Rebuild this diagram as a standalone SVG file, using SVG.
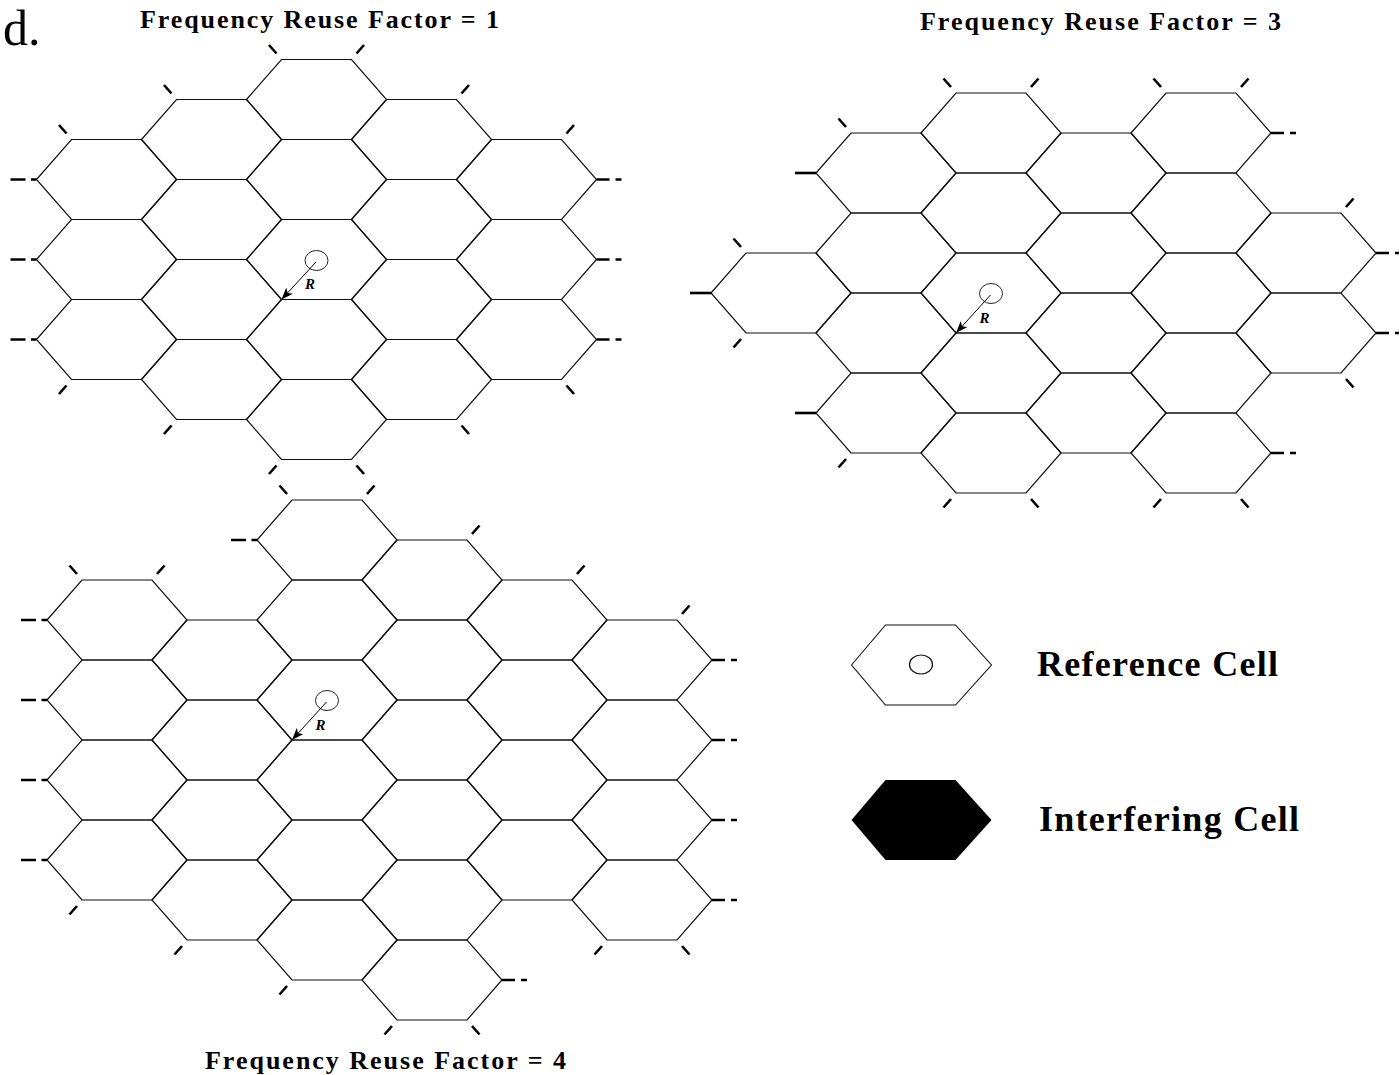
<svg xmlns="http://www.w3.org/2000/svg" xmlns:xlink="http://www.w3.org/1999/xlink" width="1399" height="1075" viewBox="0 0 1399 1075">
  <style>
    .cell { fill: none; stroke: #111; stroke-width: 1.2; }
    .stub { fill: none; stroke: #000; stroke-width: 2.6; stroke-linecap: butt; }
    .title { font-family: "Liberation Serif", "Times New Roman", serif; font-weight: bold; font-size: 26px; fill: #000; }
    .legend { font-family: "Liberation Serif", "Times New Roman", serif; font-weight: bold; font-size: 36px; fill: #000; }
    .rlabel { font-family: "Liberation Serif", "Times New Roman", serif; font-weight: bold; font-style: italic; font-size: 15px; fill: #000; }
    .site { fill: #fff; stroke: #222; stroke-width: 1; }
    .radius { stroke: #000; stroke-width: 1; marker-end: url(#ah); }
  </style>
  <defs>
    <!-- flattened hexagonal cell, centred on its origin -->
    <polygon id="hex" points="-70,0 -35,-40 35,-40 70,0 35,40 -35,40"/>
    <!-- continuation stubs drawn at the outer vertices of each cluster -->
    <path id="ul" d="M-5,-6 L-12.5,-14.5"/>
    <path id="ur" d="M5,-6 L12.5,-14.5"/>
    <path id="dl" d="M-5,6 L-12.5,14.5"/>
    <path id="dr" d="M5,6 L12.5,14.5"/>
    <path id="lt" d="M-26,0 H-11 M-5.5,0 H0"/>
    <path id="rt" d="M0,0 H13 M19,0 H25"/>
    <path id="lts" d="M-21,0 H0"/>
    <marker id="ah" markerWidth="13" markerHeight="10" refX="12" refY="4.5" orient="auto" markerUnits="userSpaceOnUse">
      <path d="M0,0 L12,4.5 L0,9 L3,4.5 z" fill="#000"/>
    </marker>
  </defs>

  <rect width="1399" height="1075" fill="#fff"/>

  <text x="3" y="45" font-family="'Liberation Serif', 'Times New Roman', serif" font-size="50">d.</text>

  <!-- ===== Frequency Reuse Factor = 1 ===== -->
  <text class="title" x="140" y="28" textLength="359" lengthAdjust="spacing">Frequency Reuse Factor = 1</text>
  <g id="reuse1" class="cell">
    <g id="r1-c0-a"><use xlink:href="#hex" x="106.5" y="179.5"/></g>
    <g id="r1-c0-b"><use xlink:href="#hex" x="106.5" y="259.5"/></g>
    <g id="r1-c0-c"><use xlink:href="#hex" x="106.5" y="339.5"/></g>
    <g id="r1-c1-a"><use xlink:href="#hex" x="211.5" y="139.5"/></g>
    <g id="r1-c1-b"><use xlink:href="#hex" x="211.5" y="219.5"/></g>
    <g id="r1-c1-c"><use xlink:href="#hex" x="211.5" y="299.5"/></g>
    <g id="r1-c1-d"><use xlink:href="#hex" x="211.5" y="379.5"/></g>
    <g id="r1-c2-a"><use xlink:href="#hex" x="316.5" y="99.5"/></g>
    <g id="r1-c2-b"><use xlink:href="#hex" x="316.5" y="179.5"/></g>
    <g id="r1-ref"><use xlink:href="#hex" x="316.5" y="259.5"/></g>
    <g id="r1-c2-d"><use xlink:href="#hex" x="316.5" y="339.5"/></g>
    <g id="r1-c2-e"><use xlink:href="#hex" x="316.5" y="419.5"/></g>
    <g id="r1-c3-a"><use xlink:href="#hex" x="421.5" y="139.5"/></g>
    <g id="r1-c3-b"><use xlink:href="#hex" x="421.5" y="219.5"/></g>
    <g id="r1-c3-c"><use xlink:href="#hex" x="421.5" y="299.5"/></g>
    <g id="r1-c3-d"><use xlink:href="#hex" x="421.5" y="379.5"/></g>
    <g id="r1-c4-a"><use xlink:href="#hex" x="526.5" y="179.5"/></g>
    <g id="r1-c4-b"><use xlink:href="#hex" x="526.5" y="259.5"/></g>
    <g id="r1-c4-c"><use xlink:href="#hex" x="526.5" y="339.5"/></g>
  </g>
  <g id="reuse1-stubs" class="stub">
    <use xlink:href="#ul" x="281.5" y="59.5"/><use xlink:href="#ur" x="351.5" y="59.5"/>
    <use xlink:href="#ul" x="176.5" y="99.5"/><use xlink:href="#ur" x="456.5" y="99.5"/>
    <use xlink:href="#ul" x="71.5" y="139.5"/><use xlink:href="#ur" x="561.5" y="139.5"/>
    <use xlink:href="#lt" x="36.5" y="179.5"/><use xlink:href="#lt" x="36.5" y="259.5"/><use xlink:href="#lt" x="36.5" y="339.5"/>
    <use xlink:href="#rt" x="596.5" y="179.5"/><use xlink:href="#rt" x="596.5" y="259.5"/><use xlink:href="#rt" x="596.5" y="339.5"/>
    <use xlink:href="#dl" x="71.5" y="379.5"/><use xlink:href="#dr" x="561.5" y="379.5"/>
    <use xlink:href="#dl" x="176.5" y="419.5"/><use xlink:href="#dr" x="456.5" y="419.5"/>
    <use xlink:href="#dl" x="281.5" y="459.5"/><use xlink:href="#dr" x="351.5" y="459.5"/>
  </g>

  <!-- ===== Frequency Reuse Factor = 3 ===== -->
  <text class="title" x="920" y="30" textLength="361" lengthAdjust="spacing">Frequency Reuse Factor = 3</text>
  <g id="reuse3" class="cell">
    <g id="r3-c0-a"><use xlink:href="#hex" x="781" y="293"/></g>
    <g id="r3-c1-a"><use xlink:href="#hex" x="886" y="173"/></g>
    <g id="r3-c1-b"><use xlink:href="#hex" x="886" y="253"/></g>
    <g id="r3-c1-c"><use xlink:href="#hex" x="886" y="333"/></g>
    <g id="r3-c1-d"><use xlink:href="#hex" x="886" y="413"/></g>
    <g id="r3-c2-a"><use xlink:href="#hex" x="991" y="133"/></g>
    <g id="r3-c2-b"><use xlink:href="#hex" x="991" y="213"/></g>
    <g id="r3-ref"><use xlink:href="#hex" x="991" y="293"/></g>
    <g id="r3-c2-d"><use xlink:href="#hex" x="991" y="373"/></g>
    <g id="r3-c2-e"><use xlink:href="#hex" x="991" y="453"/></g>
    <g id="r3-c3-a"><use xlink:href="#hex" x="1096" y="173"/></g>
    <g id="r3-c3-b"><use xlink:href="#hex" x="1096" y="253"/></g>
    <g id="r3-c3-c"><use xlink:href="#hex" x="1096" y="333"/></g>
    <g id="r3-c3-d"><use xlink:href="#hex" x="1096" y="413"/></g>
    <g id="r3-c4-a"><use xlink:href="#hex" x="1201" y="133"/></g>
    <g id="r3-c4-b"><use xlink:href="#hex" x="1201" y="213"/></g>
    <g id="r3-c4-c"><use xlink:href="#hex" x="1201" y="293"/></g>
    <g id="r3-c4-d"><use xlink:href="#hex" x="1201" y="373"/></g>
    <g id="r3-c4-e"><use xlink:href="#hex" x="1201" y="453"/></g>
    <g id="r3-c5-a"><use xlink:href="#hex" x="1306" y="253"/></g>
    <g id="r3-c5-b"><use xlink:href="#hex" x="1306" y="333"/></g>
  </g>
  <g id="reuse3-stubs" class="stub">
    <use xlink:href="#ul" x="956" y="93"/><use xlink:href="#ur" x="1026" y="93"/>
    <use xlink:href="#ul" x="1166" y="93"/><use xlink:href="#ur" x="1236" y="93"/>
    <use xlink:href="#rt" x="1271" y="133"/>
    <use xlink:href="#ul" x="851" y="133"/><use xlink:href="#lts" x="816" y="173"/>
    <use xlink:href="#ul" x="746" y="253"/><use xlink:href="#lts" x="711" y="293"/><use xlink:href="#dl" x="746" y="333"/>
    <use xlink:href="#lts" x="816" y="413"/><use xlink:href="#dl" x="851" y="453"/>
    <use xlink:href="#dl" x="956" y="493"/><use xlink:href="#dr" x="1026" y="493"/>
    <use xlink:href="#dl" x="1166" y="493"/><use xlink:href="#dr" x="1236" y="493"/>
    <use xlink:href="#rt" x="1271" y="453"/>
    <use xlink:href="#ur" x="1341" y="213"/><use xlink:href="#rt" x="1376" y="253"/>
    <use xlink:href="#rt" x="1376" y="333"/><use xlink:href="#dr" x="1341" y="373"/>
  </g>

  <!-- ===== Frequency Reuse Factor = 4 ===== -->
  <text class="title" x="205" y="1069" textLength="361" lengthAdjust="spacing">Frequency Reuse Factor = 4</text>
  <g id="reuse4" class="cell">
    <g id="r4-c0-a"><use xlink:href="#hex" x="117" y="620"/></g>
    <g id="r4-c0-b"><use xlink:href="#hex" x="117" y="700"/></g>
    <g id="r4-c0-c"><use xlink:href="#hex" x="117" y="780"/></g>
    <g id="r4-c0-d"><use xlink:href="#hex" x="117" y="860"/></g>
    <g id="r4-c1-a"><use xlink:href="#hex" x="222" y="660"/></g>
    <g id="r4-c1-b"><use xlink:href="#hex" x="222" y="740"/></g>
    <g id="r4-c1-c"><use xlink:href="#hex" x="222" y="820"/></g>
    <g id="r4-c1-d"><use xlink:href="#hex" x="222" y="900"/></g>
    <g id="r4-c2-a"><use xlink:href="#hex" x="327" y="540"/></g>
    <g id="r4-c2-b"><use xlink:href="#hex" x="327" y="620"/></g>
    <g id="r4-ref"><use xlink:href="#hex" x="327" y="700"/></g>
    <g id="r4-c2-d"><use xlink:href="#hex" x="327" y="780"/></g>
    <g id="r4-c2-e"><use xlink:href="#hex" x="327" y="860"/></g>
    <g id="r4-c2-f"><use xlink:href="#hex" x="327" y="940"/></g>
    <g id="r4-c3-a"><use xlink:href="#hex" x="432" y="580"/></g>
    <g id="r4-c3-b"><use xlink:href="#hex" x="432" y="660"/></g>
    <g id="r4-c3-c"><use xlink:href="#hex" x="432" y="740"/></g>
    <g id="r4-c3-d"><use xlink:href="#hex" x="432" y="820"/></g>
    <g id="r4-c3-e"><use xlink:href="#hex" x="432" y="900"/></g>
    <g id="r4-c3-f"><use xlink:href="#hex" x="432" y="980"/></g>
    <g id="r4-c4-a"><use xlink:href="#hex" x="537" y="620"/></g>
    <g id="r4-c4-b"><use xlink:href="#hex" x="537" y="700"/></g>
    <g id="r4-c4-c"><use xlink:href="#hex" x="537" y="780"/></g>
    <g id="r4-c4-d"><use xlink:href="#hex" x="537" y="860"/></g>
    <g id="r4-c5-a"><use xlink:href="#hex" x="642" y="660"/></g>
    <g id="r4-c5-b"><use xlink:href="#hex" x="642" y="740"/></g>
    <g id="r4-c5-c"><use xlink:href="#hex" x="642" y="820"/></g>
    <g id="r4-c5-d"><use xlink:href="#hex" x="642" y="900"/></g>
  </g>
  <g id="reuse4-stubs" class="stub">
    <use xlink:href="#ul" x="82" y="580"/><use xlink:href="#ur" x="152" y="580"/>
    <use xlink:href="#lt" x="47" y="620"/><use xlink:href="#lt" x="47" y="700"/>
    <use xlink:href="#lt" x="47" y="780"/><use xlink:href="#lt" x="47" y="860"/>
    <use xlink:href="#dl" x="82" y="900"/><use xlink:href="#dl" x="187" y="940"/>
    <use xlink:href="#ul" x="292" y="500"/><use xlink:href="#ur" x="362" y="500"/>
    <use xlink:href="#lt" x="257" y="540"/><use xlink:href="#dl" x="292" y="980"/>
    <use xlink:href="#ur" x="467" y="540"/><use xlink:href="#ur" x="572" y="580"/><use xlink:href="#ur" x="677" y="620"/>
    <use xlink:href="#rt" x="712" y="660"/><use xlink:href="#rt" x="712" y="740"/>
    <use xlink:href="#rt" x="712" y="820"/><use xlink:href="#rt" x="712" y="900"/>
    <use xlink:href="#dl" x="607" y="940"/><use xlink:href="#dr" x="677" y="940"/>
    <use xlink:href="#dl" x="397" y="1020"/><use xlink:href="#dr" x="467" y="1020"/>
    <use xlink:href="#rt" x="502" y="980"/>
  </g>

  <!-- base-station sites and cell radius arrows -->
  <g id="sites">
    <ellipse class="site" cx="316.5" cy="260.5" rx="11.5" ry="10"/>
    <ellipse class="site" cx="991" cy="293.5" rx="11.5" ry="10"/>
    <ellipse class="site" cx="327" cy="700.5" rx="11.5" ry="10"/>
  </g>
  <g id="connectors">
    <line class="radius" x1="316" y1="262" x2="281.5" y2="299.5"/>
    <line class="radius" x1="990.5" y1="295" x2="956" y2="333"/>
    <line class="radius" x1="326.5" y1="702" x2="292" y2="740"/>
  </g>
  <g id="radius-labels">
    <text class="rlabel" x="305" y="289">R</text>
    <text class="rlabel" x="979.5" y="322.5">R</text>
    <text class="rlabel" x="315.5" y="729.5">R</text>
  </g>

  <!-- legend -->
  <g id="legend-reference">
    <polygon points="851.5,665 885.5,625 955.5,625 991.5,665 955.5,705 885.5,705" fill="#fff" stroke="#111" stroke-width="1.1"/>
    <ellipse cx="921" cy="664.5" rx="11.5" ry="9.5" fill="#fff" stroke="#111" stroke-width="1.2"/>
    <text class="legend" x="1037" y="676" textLength="241" lengthAdjust="spacing">Reference Cell</text>
  </g>
  <g id="legend-interfering">
    <polygon points="851.5,820 885.5,780 955.5,780 991.5,820 955.5,860 885.5,860" fill="#000"/>
    <text class="legend" x="1039" y="831" textLength="260" lengthAdjust="spacing">Interfering Cell</text>
  </g>
</svg>
